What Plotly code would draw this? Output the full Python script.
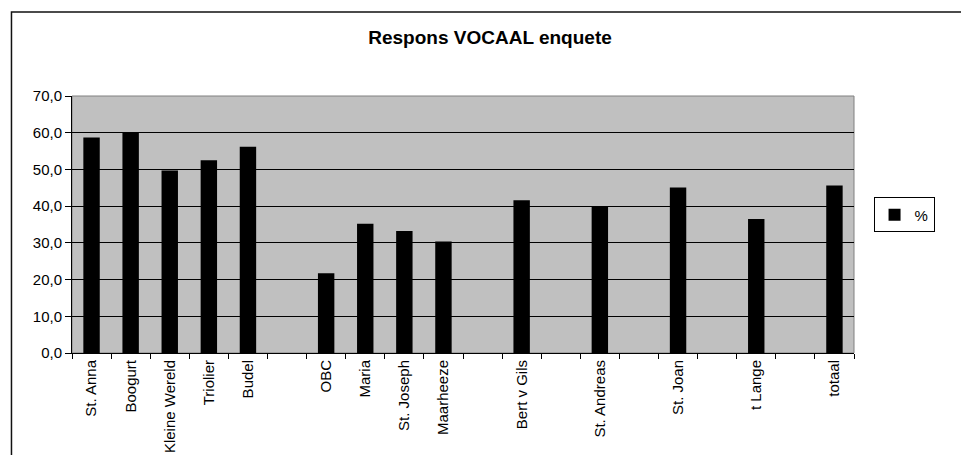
import plotly.graph_objects as go

# category labels, blank entries are empty slots in the original sheet
categories = ["St. Anna", "Boogurt", "Kleine Wereld", "Triolier", "Budel", "",
              "OBC", "Maria", "St. Joseph", "Maarheeze", "", "Bert v Gils", "",
              "St. Andreas", "", "St. Joan", "", "t Lange", "", "totaal"]
percent = [58.7, 60.0, 49.7, 52.5, 56.2, None,
           21.7, 35.2, 33.2, 30.4, None, 41.6, None,
           39.8, None, 45.1, None, 36.5, None, 45.6]
y_ticks = [0, 10, 20, 30, 40, 50, 60, 70]

font = "Arial, Liberation Sans, sans-serif"
pos = list(range(len(categories)))

fig = go.Figure()
fig.add_trace(go.Bar(x=pos, y=percent, name="%",
                     marker=dict(color="black", line=dict(width=0))))

# page body has an 8px margin, so the figure is sized to end at the window edge
fig.update_layout(
    width=961, height=447, autosize=False,
    margin=dict(l=64, r=115, t=88, b=102),
    paper_bgcolor="white", plot_bgcolor="#C0C0C0",
    separators=", ",
    bargap=0.58,
    font=dict(family=font, color="black"),
    title=dict(text="<b>Respons VOCAAL enquete</b>", x=0.5016, xanchor="center",
               y=0.935, yanchor="middle", font=dict(size=19, family=font)),
    showlegend=True,
    legend=dict(x=1.025, y=0.537, xanchor="left", yanchor="middle",
                bordercolor="black", borderwidth=1, bgcolor="white",
                itemwidth=30, entrywidth=90, font=dict(size=15)),
)

fig.update_xaxes(
    range=[-0.5, len(categories) - 0.5],
    tickmode="array", tickvals=pos, ticktext=categories,
    tickangle=-90, ticks="", ticklen=0, tickfont=dict(size=15),
    showline=True, linecolor="black", linewidth=1,
    showgrid=False, zeroline=False, automargin=False,
    minor=dict(tick0=-0.5, dtick=1, ticks="outside", ticklen=5,
               tickcolor="black", showgrid=False),
)
fig.update_yaxes(
    range=[0, 70], tickmode="array", tickvals=y_ticks, tickformat=".1f",
    ticks="outside", ticklen=6, tickcolor="black", tickfont=dict(size=15),
    showline=True, linecolor="black", linewidth=1,
    showgrid=True, gridcolor="black", gridwidth=1, zeroline=False,
    automargin=False,
)

# plot area border and outer chart frame
fig.add_shape(type="rect", xref="paper", yref="paper", x0=0, y0=0, x1=1, y1=1,
              line=dict(color="#808080", width=1), layer="below")
fig.add_shape(type="rect", xref="paper", yref="paper",
              x0=-0.0774, y0=-0.45, x1=1.2, y1=1.327,
              line=dict(color="#111111", width=1.5), layer="below")

fig.write_html("out.html")
